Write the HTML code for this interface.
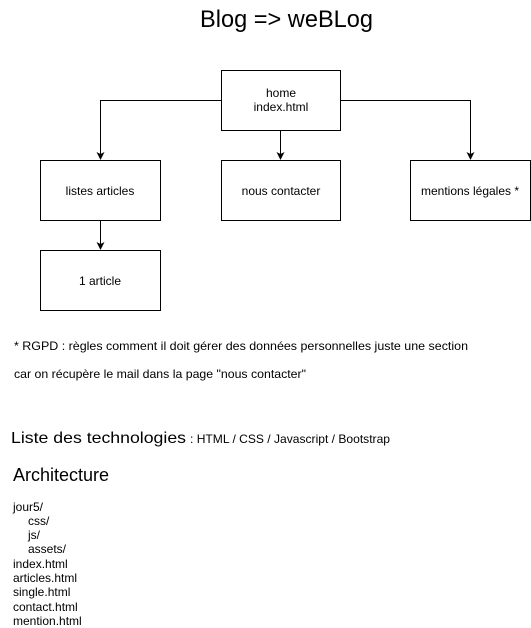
<!DOCTYPE html>
<html><head><meta charset="utf-8"><style>
html,body{margin:0;padding:0;background:#fff;}
svg{display:block;font-family:"Liberation Sans",Arial,sans-serif;}
</style></head><body>
<svg width="531" height="628" viewBox="0 0 531 628" xmlns="http://www.w3.org/2000/svg">
<defs><marker id="a" markerWidth="8" markerHeight="8" refX="7" refY="4" orient="auto" markerUnits="userSpaceOnUse"><path d="M0,0 L8,4 L0,8 L2,4 Z" fill="#000"/></marker></defs>
<text x="200" y="27" font-size="24" textLength="173" lengthAdjust="spacingAndGlyphs">Blog =&gt; weBLog</text>
<g fill="#fff" stroke="#000" stroke-width="1">
<rect x="221.5" y="70.5" width="119" height="60"/>
<rect x="40.5" y="160.5" width="120" height="60"/>
<rect x="221.5" y="160.5" width="119" height="60"/>
<rect x="410.5" y="160.5" width="120" height="60"/>
<rect x="40.5" y="250.5" width="120" height="60"/>
</g>
<g fill="none" stroke="#000" stroke-width="1">
<path d="M221 100.5 H100.5 V159" marker-end="url(#a)"/>
<path d="M341 100.5 H470.5 V159" marker-end="url(#a)"/>
<path d="M280.5 131 V159" marker-end="url(#a)"/>
<path d="M100.5 221 V249" marker-end="url(#a)"/>
</g>
<g font-size="12" text-anchor="middle">
<text x="281" y="97">home</text>
<text x="281" y="111">index.html</text>
<text x="100" y="195">listes articles</text>
<text x="281" y="195">nous contacter</text>
<text x="470" y="195">mentions légales *</text>
<text x="100" y="285">1 article</text>
</g>
<g font-size="12">
<text x="14" y="350" textLength="454" lengthAdjust="spacingAndGlyphs">* RGPD : règles comment il doit gérer des données personnelles juste une section</text>
<text x="14" y="378" textLength="292" lengthAdjust="spacingAndGlyphs">car on récupère le mail dans la page "nous contacter"</text>
<text x="11" y="443" font-size="16" textLength="175" lengthAdjust="spacingAndGlyphs">Liste des technologies</text>
<text x="190" y="443" textLength="200" lengthAdjust="spacingAndGlyphs">: HTML / CSS / Javascript / Bootstrap</text>
<text x="13" y="481" font-size="18">Architecture</text>
<text x="13" y="511">jour5/</text>
<text x="28" y="525">css/</text>
<text x="28" y="539">js/</text>
<text x="28" y="553">assets/</text>
<text x="13" y="568">index.html</text>
<text x="13" y="582">articles.html</text>
<text x="13" y="596">single.html</text>
<text x="13" y="611">contact.html</text>
<text x="13" y="625">mention.html</text>
</g>
</svg>
</body></html>
